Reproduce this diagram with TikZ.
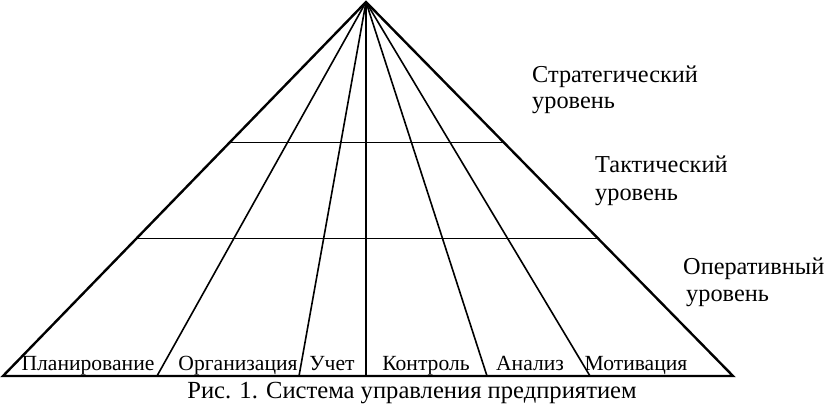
\documentclass[tikz,border=0pt]{standalone}
\usepackage{fontspec}
\setmainfont{Liberation Serif}
\usetikzlibrary{calc}
\begin{document}
\begin{tikzpicture}[x=1pt,y=-1pt,
  outer/.style={line width=2.4pt, line join=miter},
  inner/.style={line width=1.6pt},
  lbl/.style={anchor=base, inner sep=0pt, font=\fontsize{21.6}{24}\selectfont},
  lvl/.style={anchor=base west, inner sep=0pt, font=\fontsize{24.3}{27}\selectfont},
  captext/.style={anchor=base, inner sep=0pt, font=\fontsize{24.6}{27}\selectfont}]
\useasboundingbox (0,0) rectangle (826,408);
% key points
\coordinate (apex) at (366,2);
\coordinate (bl) at (3,376);
\coordinate (br) at (733,376);
\coordinate (b1) at (157,376);
\coordinate (b2) at (299,376);
\coordinate (b3) at (366,376);
\coordinate (b4) at (487,376);
\coordinate (b5) at (590,376);
% level lines endpoints on edges
\coordinate (h1l) at ($(apex)!0.376!(bl)$);
\coordinate (h1r) at ($(apex)!0.376!(br)$);
\coordinate (h2l) at ($(apex)!0.632!(bl)$);
\coordinate (h2r) at ($(apex)!0.632!(br)$);
% outline
\draw[outer] (apex) -- (bl) -- (br) -- cycle;
% dividers
\foreach \b in {b1,b2,b3,b4,b5} \draw[inner] (apex) -- (\b);
\draw[inner] (h1l) -- (h1r);
\draw[inner] (h2l) -- (h2r);
% bottom labels
\node[lbl] (l1) at (88,370) {Планирование};
\node[lbl] (l2) at (238,370) {Организация};
\node[lbl] (l3) at (332,370) {Учет};
\node[lbl] (l4) at (426,370) {Контроль};
\node[lbl] (l5) at (530,370) {Анализ};
\node[lbl] (l6) at (636,370) {Мотивация};
% level labels
\node[lvl] (s1) at (532,82) {Стратегический};
\node[lvl] (s2) at (532,108) {уровень};
\node[lvl] (t1) at (595,172) {Тактический};
\node[lvl] (t2) at (595,200) {уровень};
\node[lvl] (o1) at (683,274) {Оперативный};
\node[lvl] (o2) at (686,301) {уровень};
% caption
\node[captext] (caption) at (412,398) {Рис. 1. Система управления предприятием};
\end{tikzpicture}
\end{document}
